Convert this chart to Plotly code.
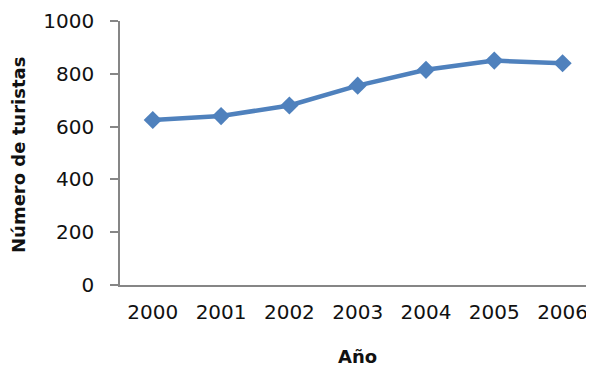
import plotly.graph_objects as go

years = ["2000", "2001", "2002", "2003", "2004", "2005", "2006"]
tourists = [625, 640, 680, 755, 815, 850, 840]
y_ticks = [0, 200, 400, 600, 800, 1000]

# the page body adds an 8px margin, so the figure is sized to fill the window
W, H = 586, 361
ml, mr, mt, mb = 112, 0, 13, 84
pw, ph = W - ml - mr, H - mt - mb
bottom = H - mb

fig = go.Figure()
fig.add_trace(go.Scatter(
    x=years, y=tourists, mode="lines+markers",
    line=dict(color="#4F81BD", width=4.5),
    marker=dict(symbol="diamond", size=14, color="#4F81BD"),
    showlegend=False, cliponaxis=False,
))

font_tick = dict(family="DejaVu Sans, sans-serif", size=20, color="#111111")
font_title = dict(family="DejaVu Sans, sans-serif", size=18, color="#111111")
fig.update_layout(
    width=W, height=H,
    margin=dict(l=ml, r=mr, t=mt, b=mb, autoexpand=False),
    plot_bgcolor="white", paper_bgcolor="white",
    xaxis=dict(
        type="category", range=[-0.48, 6.46], automargin=False,
        showline=True, linecolor="#868686", linewidth=1.5,
        showgrid=False, zeroline=False, ticks="",
        tickfont=font_tick, ticklabelstandoff=8,
    ),
    yaxis=dict(
        range=[0, 1000], tickvals=y_ticks, automargin=False,
        showline=True, linecolor="#868686", linewidth=1.5,
        showgrid=False, zeroline=False,
        ticks="outside", ticklen=8, tickcolor="#868686", tickwidth=1.5,
        tickfont=font_tick, ticklabelstandoff=12,
    ),
    annotations=[
        dict(text="<b>Número de turistas</b>", textangle=-90,
             xref="paper", yref="paper",
             x=(10 - ml) / pw, y=(bottom - 147) / ph,
             xanchor="center", yanchor="middle", showarrow=False,
             font=font_title),
        dict(text="<b>Año</b>",
             xref="paper", yref="paper",
             x=0.5, y=-(H - bottom) / ph,
             xanchor="center", yanchor="bottom", showarrow=False,
             font=font_title),
    ],
)

fig.write_html("out.html")
